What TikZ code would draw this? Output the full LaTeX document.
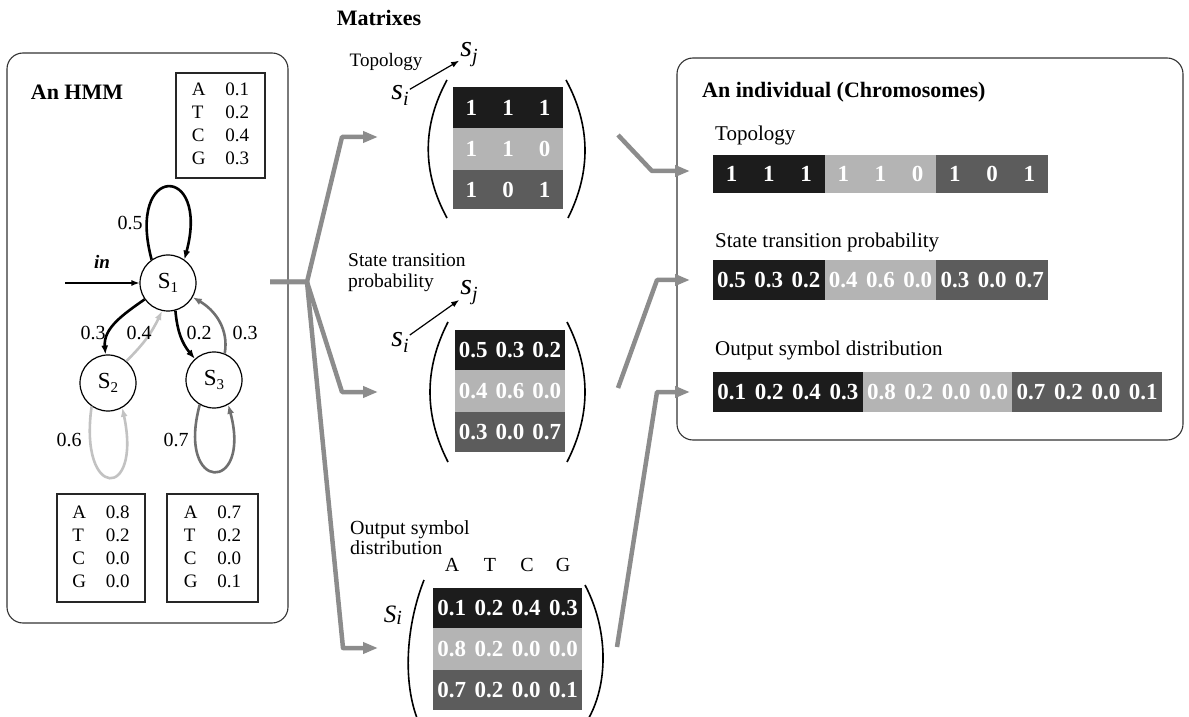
\documentclass[tikz,border=0pt]{standalone}
\usepackage{fontspec}
\setmainfont{Liberation Serif}
\usetikzlibrary{arrows.meta}
\definecolor{cA}{HTML}{1C1C1C}
\definecolor{cB}{HTML}{B4B4B4}
\definecolor{cC}{HTML}{5C5C5C}
\definecolor{conncol}{HTML}{8C8C8C}
\definecolor{lgray}{HTML}{C2C2C2}
\definecolor{dgray}{HTML}{707070}
\begin{document}
\begin{tikzpicture}[x=1pt,y=1pt,
  panel/.style={draw=black!80, line width=1.1pt, rounded corners=16pt, inner sep=0},
  ebox/.style={draw=black!85, line width=1.3pt, inner sep=0, font=\fontsize{19}{23}\selectfont},
  state/.style={circle, draw, line width=1.2pt, minimum size=56pt, inner sep=0, fill=white, font=\fontsize{23}{23}\selectfont},
  bk/.style={draw=black, line width=2.6pt, -{Latex[length=9pt,width=7pt]}},
  lg/.style={bk, draw=lgray},
  dg/.style={bk, draw=dgray},
  conn/.style={draw=conncol, line width=4.5pt, line join=round, -{Triangle[length=15pt,width=11pt]}},
  ar/.style={draw=black, line width=1.2pt, -{Latex[length=8pt,width=6pt]}},
  lbl/.style={font=\fontsize{20}{20}\selectfont, inner sep=0},
  ttl/.style={font=\bfseries\fontsize{22}{22}\selectfont, inner sep=0},
  num/.style={text=white, font=\bfseries\fontsize{23}{23}\selectfont, inner sep=0},
  cell/.style={inner sep=0, outer sep=0, draw=none},
  paren/.style={draw=black, line width=1.6pt},
  sv/.style={inner sep=1pt, font=\itshape\fontsize{30}{30}\selectfont}
]
\useasboundingbox (0,0) rectangle (1189,716);
\clip (0,0) rectangle (1189,716);

% ---------- HMM panel ----------
\node[panel, minimum width=281pt, minimum height=570pt] (hmm) at (147.5,378) {};
\node[ttl] (hmmt) at (77,624) {An HMM};
\node[ebox, minimum width=89pt, minimum height=105pt] (e1) at (220.5,590.5)
  {\begin{tabular}{@{}l@{\hspace{20pt}}l@{}}A&0.1\\T&0.2\\C&0.4\\G&0.3\end{tabular}};
\node[ebox, minimum width=88pt, minimum height=108pt] (e2) at (101,168)
  {\begin{tabular}{@{}l@{\hspace{20pt}}l@{}}A&0.8\\T&0.2\\C&0.0\\G&0.0\end{tabular}};
\node[ebox, minimum width=91pt, minimum height=108pt] (e3) at (212.5,168)
  {\begin{tabular}{@{}l@{\hspace{20pt}}l@{}}A&0.7\\T&0.2\\C&0.0\\G&0.1\end{tabular}};

\node[state] (s1) at (168,433) {S\raisebox{-4pt}{\fontsize{15}{15}\selectfont 1}};
\node[state] (s2) at (108,333) {S\raisebox{-4pt}{\fontsize{15}{15}\selectfont 2}};
\node[state] (s3) at (214,336) {S\raisebox{-4pt}{\fontsize{15}{15}\selectfont 3}};

\coordinate (inst) at (65,433);
\node[lbl, font=\bfseries\itshape\fontsize{19}{19}\selectfont] (inlbl) at (102,454) {in};
\draw[ar] (inst) -- (s1);

\draw[bk] (s1.125) .. controls +(105:100) and +(75:100) .. (s1.55);
\draw[lg] (s2.235) .. controls +(262:95) and +(282:95) .. (s2.300);
\draw[dg] (s3.240) .. controls +(255:92) and +(285:92) .. (s3.300);
\draw[bk] (s1.215) to[out=215,in=95] (s2.95);
\draw[lg] (s2.50) to[bend right=10] (s1.258);
\draw[bk] (s1.285) to[out=275,in=130] (s3.132);
\draw[dg] (s3.68) to[out=80,in=-30] (s1.330);

\node[lbl] (l05) at (130,493) {0.5};
\node[lbl] (l03a) at (93,383) {0.3};
\node[lbl] (l04) at (139,383) {0.4};
\node[lbl] (l02) at (199,383) {0.2};
\node[lbl] (l03b) at (245,383) {0.3};
\node[lbl] (l06) at (69,276) {0.6};
\node[lbl] (l07) at (176,276) {0.7};

% ---------- Matrixes ----------
\node[ttl] (mtitle) at (379,698) {Matrixes};

% Topology matrix
\node[lbl, font=\fontsize{19}{19}\selectfont] (mtl) at (386,654) {Topology};
\node[sv] (si1) at (400,621) {s\raisebox{-6pt}{\fontsize{20}{20}\selectfont i}};
\node[sv] (sj1) at (469,661) {s\raisebox{-6pt}{\fontsize{20}{20}\selectfont j}};
\draw[ar] (si1) -- (sj1);
\node[cell, fill=cA, minimum width=110pt, minimum height=41pt] (mt1) at (508,608.5) {};
\node[cell, fill=cB, minimum width=110pt, minimum height=42pt] (mt2) at (508,567) {};
\node[cell, fill=cC, minimum width=110pt, minimum height=39pt] (mt3) at (508,526.5) {};
\foreach \v [count=\k] in {1,1,1} \node[num] (mt1n\k) at ({453+36.67*(\k-0.5)},608.5) {\v};
\foreach \v [count=\k] in {1,1,0} \node[num] (mt2n\k) at ({453+36.67*(\k-0.5)},567) {\v};
\foreach \v [count=\k] in {1,0,1} \node[num] (mt3n\k) at ({453+36.67*(\k-0.5)},526.5) {\v};
\draw[paren] (447,636) .. controls (422,590) and (422,544) .. (447,498);
\draw[paren] (566,636) .. controls (591,590) and (591,544) .. (568,498);

% State transition matrix
\node[lbl, anchor=west, align=left, font=\fontsize{19.5}{21}\selectfont] (msl) at (348,443) {State transition\\probability};
\node[sv] (si2) at (400,374) {s\raisebox{-6pt}{\fontsize{20}{20}\selectfont i}};
\node[sv] (sj2) at (469,423) {s\raisebox{-6pt}{\fontsize{20}{20}\selectfont j}};
\draw[ar] (si2) -- (sj2);
\node[cell, fill=cA, minimum width=110pt, minimum height=40pt] (ms1) at (510,366) {};
\node[cell, fill=cB, minimum width=110pt, minimum height=42pt] (ms2) at (510,325) {};
\node[cell, fill=cC, minimum width=110pt, minimum height=40pt] (ms3) at (510,284) {};
\foreach \v [count=\k] in {0.5,0.3,0.2} \node[num] (ms1n\k) at ({455+36.67*(\k-0.5)},366) {\v};
\foreach \v [count=\k] in {0.4,0.6,0.0} \node[num] (ms2n\k) at ({455+36.67*(\k-0.5)},325) {\v};
\foreach \v [count=\k] in {0.3,0.0,0.7} \node[num] (ms3n\k) at ({455+36.67*(\k-0.5)},284) {\v};
\draw[paren] (448,394) .. controls (424,347) and (424,301) .. (448,254);
\draw[paren] (567,394) .. controls (591,347) and (591,301) .. (567,254);

% Output symbol matrix
\node[lbl, anchor=west, align=left, font=\fontsize{20}{20}\selectfont] (mol) at (350,178) {Output symbol\\distribution};
\node[lbl] (cA1) at (452,151) {A};
\node[lbl] (cT1) at (490,151) {T};
\node[lbl] (cC1) at (527,151) {C};
\node[lbl] (cG1) at (563,151) {G};
\node[inner sep=1pt, font=\itshape\fontsize{25}{25}\selectfont] (si3) at (393,101) {S\raisebox{-2pt}{\fontsize{20}{20}\selectfont i}};
\node[cell, fill=cA, minimum width=149pt, minimum height=40pt] (mo1) at (507.5,108) {};
\node[cell, fill=cB, minimum width=149pt, minimum height=42pt] (mo2) at (507.5,67) {};
\node[cell, fill=cC, minimum width=149pt, minimum height=40pt] (mo3) at (507.5,26) {};
\foreach \v [count=\k] in {0.1,0.2,0.4,0.3} \node[num] (mo1n\k) at ({433+37.25*(\k-0.5)},108) {\v};
\foreach \v [count=\k] in {0.8,0.2,0.0,0.0} \node[num] (mo2n\k) at ({433+37.25*(\k-0.5)},67) {\v};
\foreach \v [count=\k] in {0.7,0.2,0.0,0.1} \node[num] (mo3n\k) at ({433+37.25*(\k-0.5)},26) {\v};
\draw[paren] (424,136) .. controls (402,80) and (402,10) .. (430,-26);
\draw[paren] (585,131) .. controls (612,80) and (610,10) .. (570,-26);

% ---------- Individual panel ----------
\node[panel, minimum width=506pt, minimum height=382pt] (ind) at (930,467) {};
\node[ttl, anchor=west] (indt) at (702,624) {An individual (Chromosomes)};
\node[lbl, anchor=west, font=\fontsize{21}{21}\selectfont] (itop) at (715,581) {Topology};
\node[lbl, anchor=west, font=\fontsize{21}{21}\selectfont] (istp) at (715,474) {State transition probability};
\node[lbl, anchor=west, font=\fontsize{21}{21}\selectfont] (iout) at (715,366) {Output symbol distribution};

\node[cell, fill=cA, minimum width=111.7pt, minimum height=38pt] (it1) at (768.8,542) {};
\node[cell, fill=cB, minimum width=111.7pt, minimum height=38pt] (it2) at (880.5,542) {};
\node[cell, fill=cC, minimum width=111.7pt, minimum height=38pt] (it3) at (992.2,542) {};
\foreach \v [count=\k] in {1,1,1,1,1,0,1,0,1} \node[num] (itn\k) at ({713+37.22*(\k-0.5)},542) {\v};

\node[cell, fill=cA, minimum width=111.7pt, minimum height=40pt] (is1) at (768.8,436) {};
\node[cell, fill=cB, minimum width=111.7pt, minimum height=40pt] (is2) at (880.5,436) {};
\node[cell, fill=cC, minimum width=111.7pt, minimum height=40pt] (is3) at (992.2,436) {};
\foreach \v [count=\k] in {0.5,0.3,0.2,0.4,0.6,0.0,0.3,0.0,0.7} \node[num] (isn\k) at ({713+37.22*(\k-0.5)},436) {\v};

\node[cell, fill=cA, minimum width=149.7pt, minimum height=40pt] (io1) at (787.8,324) {};
\node[cell, fill=cB, minimum width=149.7pt, minimum height=40pt] (io2) at (937.5,324) {};
\node[cell, fill=cC, minimum width=149.7pt, minimum height=40pt] (io3) at (1087.2,324) {};
\foreach \v [count=\k] in {0.1,0.2,0.4,0.3,0.8,0.2,0.0,0.0,0.7,0.2,0.0,0.1} \node[num] (ion\k) at ({713+37.42*(\k-0.5)},324) {\v};

% ---------- Connectors ----------
\coordinate (c0) at (270,434);
\coordinate (jn) at (307,434);
\coordinate (b1) at (342,579); \coordinate (t1) at (378,579);
\coordinate (b2) at (342,324); \coordinate (t2) at (378,324);
\coordinate (b3) at (343,68);  \coordinate (t3) at (378,68);
\draw[conn] (c0) -- (jn) -- (b1) -- (t1);
\draw[conn] (c0) -- (jn) -- (b2) -- (t2);
\draw[conn] (c0) -- (jn) -- (b3) -- (t3);

\coordinate (r1s) at (618,581); \coordinate (r1b) at (652,545); \coordinate (r1e) at (690,545);
\coordinate (r2s) at (618,328); \coordinate (r2b) at (657,436); \coordinate (r2e) at (690,436);
\coordinate (r3s) at (617,69);  \coordinate (r3b) at (657,324); \coordinate (r3e) at (690,324);
\draw[conn] (r1s) -- (r1b) -- (r1e);
\draw[conn] (r2s) -- (r2b) -- (r2e);
\draw[conn] (r3s) -- (r3b) -- (r3e);
\end{tikzpicture}
\end{document}
